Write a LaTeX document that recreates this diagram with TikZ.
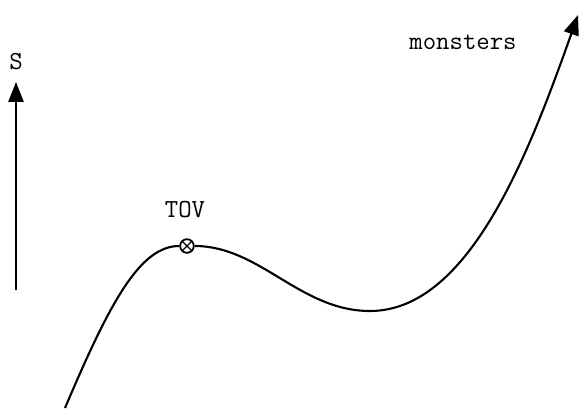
\documentclass[tikz,border=0pt]{standalone}
\usetikzlibrary{arrows.meta}
\begin{document}
\begin{tikzpicture}[
  every node/.style={font=\ttfamily\fontsize{18.5}{22}\selectfont},
  curve/.style={line width=1.5pt},
  arrow/.style={-{Triangle[length=0.5cm,width=0.38cm]}, line width=1.5pt},
  crossmark/.style={
    draw,
    circle,
    line width=1.3pt,
    inner sep=0pt,
    minimum size=0.34cm,
    fill=white,
    path picture={
      \draw[line width=1pt] (path picture bounding box.south west) -- (path picture bounding box.north east);
      \draw[line width=1pt] (path picture bounding box.north west) -- (path picture bounding box.south east);
    }
  }
]
\useasboundingbox (0,0) rectangle (14.5,10.25);
% axis
\coordinate (sbot) at (0.4,3.0);
\coordinate (stop) at (0.4,8.2);
\node (s) at (0.4,8.7) {S};
\draw[arrow] (sbot) -- (stop);
% the curve
\coordinate (start) at (1.625,0.05);
\coordinate (dip) at (9.25,2.475);
\coordinate (end) at (14.45,9.875);
\node[crossmark] (tov) at (4.675,4.1) {};
\node (tovlabel) at (4.625,5.0) {TOV};
\node (monsters) at (11.575,9.2) {monsters};
\draw[curve] (start) .. controls (2.75,2.7) and (3.5,4.1) .. (tov.west);
\draw[curve] (tov.east) .. controls (6.5,4.1) and (7.5,2.475) .. (dip);
\draw[arrow] (dip) .. controls (11.75,2.475) and (13.25,6.5) .. (end);
\end{tikzpicture}
\end{document}
